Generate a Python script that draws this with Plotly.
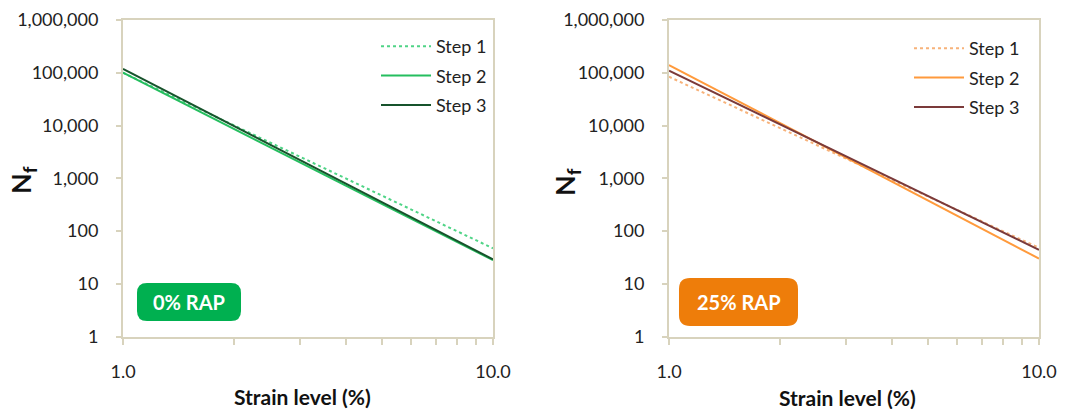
import plotly.graph_objects as go

# ---- data ----
strain = [1.0, 10.0]

nf_0rap_step1 = [100000, 47]
nf_0rap_step2 = [100000, 28]
nf_0rap_step3 = [118000, 29]

nf_25rap_step1 = [84000, 48]
nf_25rap_step2 = [140000, 30]
nf_25rap_step3 = [110000, 44]

series_names = ["Step 1", "Step 2", "Step 3"]
panel_labels = ["0% RAP", "25% RAP"]

y_tickvals = [1, 10, 100, 1000, 10000, 100000, 1000000]
y_ticktext = ["1", "10", "100", "1,000", "10,000", "100,000", "1,000,000"]
x_tickvals = [1, 2, 3, 4, 5, 6, 7, 8, 9, 10]
x_ticktext = ["1.0", "", "", "", "", "", "", "", "", "10.0"]

W, H = 1078, 409
FONT = "Lato"
FRAME = "#d8d3bd"

def px(x):
    return x / W

def py(y):
    return 1 - y / H

green_cols = ["#4fd486", "#25be5f", "#17532c"]
orange_cols = ["#f7b27a", "#ff9a3c", "#7b3a3a"]
dashes = ["dot", "solid", "solid"]

fig = go.Figure()

left_data = [nf_0rap_step1, nf_0rap_step2, nf_0rap_step3]
right_data = [nf_25rap_step1, nf_25rap_step2, nf_25rap_step3]

for i, (name, ys) in enumerate(zip(series_names, left_data)):
    fig.add_trace(go.Scatter(
        x=strain, y=ys, mode="lines", name=name,
        line=dict(color=green_cols[i], width=2, dash=dashes[i]),
        xaxis="x", yaxis="y", legend="legend", legendgroup="l%d" % i,
    ))
for i, (name, ys) in enumerate(zip(series_names, right_data)):
    fig.add_trace(go.Scatter(
        x=strain, y=ys, mode="lines", name=name,
        line=dict(color=orange_cols[i], width=2, dash=dashes[i]),
        xaxis="x2", yaxis="y2", legend="legend2", legendgroup="r%d" % i,
    ))

def xaxis(domain, anchor):
    return dict(
        type="log", range=[0, 1], domain=domain, anchor=anchor,
        tickvals=x_tickvals, ticktext=x_ticktext,
        ticks="outside", ticklen=6, tickcolor=FRAME, tickwidth=1.5,
        showline=True, linecolor=FRAME, linewidth=2, mirror=True,
        showgrid=False, zeroline=False, automargin=False,
        tickfont=dict(family=FONT, size=18, color="#222"),
        ticklabelstandoff=12,
    )

def yaxis(domain, anchor):
    return dict(
        type="log", range=[0, 6], domain=domain, anchor=anchor,
        tickvals=y_tickvals, ticktext=y_ticktext,
        ticks="outside", ticklen=5, tickcolor=FRAME, tickwidth=1.5,
        showline=True, linecolor=FRAME, linewidth=2, mirror=True,
        showgrid=False, zeroline=False, automargin=False,
        tickfont=dict(family=FONT, size=18, color="#222"),
        ticklabelstandoff=14,
    )

ydom = [py(336.5), py(20)]
fig.update_layout(
    width=W, height=H,
    margin=dict(l=0, r=0, t=0, b=0, autoexpand=False),
    paper_bgcolor="white", plot_bgcolor="white",
    font=dict(family=FONT, color="#222"),
    xaxis=xaxis([px(123), px(493)], "y"),
    yaxis=yaxis(ydom, "x"),
    xaxis2=xaxis([px(669), px(1039)], "y2"),
    yaxis2=yaxis(ydom, "x2"),
    legend=dict(x=px(376), y=py(28), xanchor="left", yanchor="top",
                bgcolor="rgba(0,0,0,0)", font=dict(family=FONT, size=18),
                traceorder="grouped", tracegroupgap=3, itemwidth=50),
    legend2=dict(x=px(909), y=py(30), xanchor="left", yanchor="top",
                 bgcolor="rgba(0,0,0,0)", font=dict(family=FONT, size=18),
                 traceorder="grouped", tracegroupgap=3, itemwidth=50),
    showlegend=True,
)

def rounded_box(x0, y0, x1, y1, r, color):
    def P(x, y):
        return "%f,%f" % (px(x), py(y))
    path = (
        "M " + P(x0 + r, y0) +
        " L " + P(x1 - r, y0) +
        " Q " + P(x1, y0) + " " + P(x1, y0 + r) +
        " L " + P(x1, y1 - r) +
        " Q " + P(x1, y1) + " " + P(x1 - r, y1) +
        " L " + P(x0 + r, y1) +
        " Q " + P(x0, y1) + " " + P(x0, y1 - r) +
        " L " + P(x0, y0 + r) +
        " Q " + P(x0, y0) + " " + P(x0 + r, y0) + " Z"
    )
    fig.add_shape(type="path", path=path, xref="paper", yref="paper",
                  fillcolor=color, line=dict(width=0), layer="above")

rounded_box(137, 283, 241, 321, 10, "#00b050")
rounded_box(679, 278, 798, 326, 11, "#ee7d0a")

fig.add_annotation(x=px(189), y=py(302), xref="paper", yref="paper",
                   xanchor="center", yanchor="middle",
                   text="<b>" + panel_labels[0] + "</b>", showarrow=False,
                   font=dict(family=FONT, size=20, color="white"))
fig.add_annotation(x=px(738.5), y=py(302), xref="paper", yref="paper",
                   xanchor="center", yanchor="middle",
                   text="<b>" + panel_labels[1] + "</b>", showarrow=False,
                   font=dict(family=FONT, size=20, color="white"))

# axis titles
for xc, yc in [(22, 180), (567, 182)]:
    fig.add_annotation(x=px(xc), y=py(yc), xref="paper", yref="paper",
                       xanchor="center", yanchor="middle",
                       text="<b>N<sub>f</sub></b>", textangle=-90, showarrow=False,
                       font=dict(family=FONT, size=27, color="#111"))
for xc, yc in [(302, 396), (847, 397)]:
    fig.add_annotation(x=px(xc), y=py(yc), xref="paper", yref="paper",
                       xanchor="center", yanchor="middle",
                       text="<b>Strain level (%)</b>", showarrow=False,
                       font=dict(family=FONT, size=21, color="#111"))

fig.write_html("out.html", config={"displayModeBar": False},
               post_script="document.body.style.margin='0';document.body.style.overflow='hidden';")
